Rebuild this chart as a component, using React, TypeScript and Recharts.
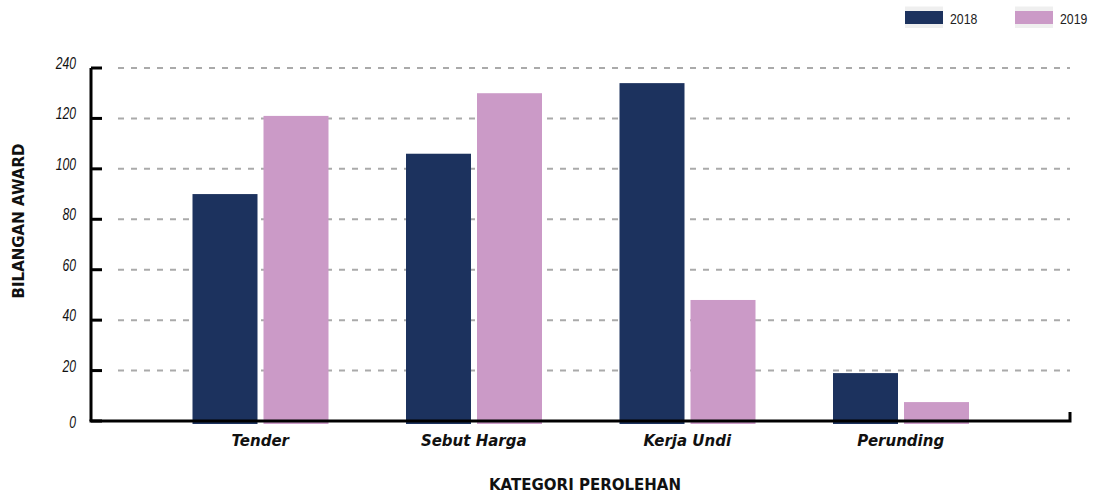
import { Bar, BarChart, CartesianGrid, Legend, ReferenceLine, XAxis, YAxis } from 'recharts';

const categories = ['Tender', 'Sebut Harga', 'Kerja Undi', 'Perunding'];
const awards2018 = [90, 106, 134, 19];
const awards2019 = [121, 130, 48, 7.5];
const yTicks = [0, 20, 40, 60, 80, 100, 120, 140];
const yTickLabels = ['0', '20', '40', '60', '80', '100', '120', '240'];

const NAVY = '#1c325e';
const PINK = '#cb9ac7';
const AXIS_X = 91;
const NARROW = "'Liberation Sans', Arial, sans-serif";

const data = categories.map((name, i) => ({
  name,
  y2018: awards2018[i],
  y2019: awards2019[i],
}));

// tick marks point inwards, labels sit a little above the line
function YTick(props: any) {
  const { y, payload, index } = props;
  const label = yTickLabels[index] ?? String(payload.value);
  const dy = payload.value === 0 ? 7 : 1;
  return (
    <g>
      <line x1={AXIS_X} x2={AXIS_X + 11} y1={y} y2={y} stroke="#000" strokeWidth={3} />
      <text
        transform={`translate(${AXIS_X - 15},${y + dy}) scale(0.76,1)`}
        textAnchor="end"
        fontFamily={NARROW}
        fontStyle="italic"
        fontSize={16}
        fill="#111"
      >
        {label}
      </text>
    </g>
  );
}

function GridLine(props: any) {
  const { x1, x2, y1, y2 } = props;
  if (y1 >= 419) return <g key={props.key} />;
  return (
    <line
      key={props.key}
      x1={x1 + 27}
      x2={x2}
      y1={y1}
      y2={y2}
      stroke="#aaa"
      strokeWidth={2}
      strokeDasharray="6 7"
    />
  );
}

function BarShape(props: any) {
  const { x, y, width, height, fill } = props;
  return <rect x={x} y={y} width={width} height={height + 3} fill={fill} />;
}

function BottomAxis(props: any) {
  const { x1, x2, y1 } = props;
  return (
    <path
      d={`M${x1 - 1.5},${y1}H${x2}V${y1 - 9}`}
      stroke="#000"
      strokeWidth={3}
      fill="none"
    />
  );
}

function LegendContent(props: any) {
  const items = props.payload ?? [];
  return (
    <svg width={190} height={32} style={{ display: 'block' }}>
      {items.map((entry: any, i: number) => (
        <g key={entry.value} transform={`translate(${i * 110},0)`}>
          <rect x={0} y={6.5} width={38} height={21.5} fill="#efefef" />
          <rect x={0} y={11} width={38} height={13} fill={entry.color} />
          <text
            transform="translate(45,24) scale(0.82,1)"
            fontFamily={NARROW}
            fontSize={15}
            fill="#222"
          >
            {entry.value}
          </text>
        </g>
      ))}
    </svg>
  );
}

export default function App() {
  return (
    <div style={{ position: 'absolute', left: 0, top: 0, width: 1095, height: 494, background: '#fff' }}>
      <BarChart
        width={1095}
        height={494}
        data={data}
        margin={{ top: 36, right: 25, bottom: 0, left: 0 }}
        barSize={65}
        barGap={6}
      >
        <CartesianGrid vertical={false} horizontal={GridLine} />
        <XAxis
          dataKey="name"
          height={73}
          padding={{ left: 62.5, right: 62.5 }}
          axisLine={false}
          tickLine={false}
          tickSize={6}
          tickMargin={8}
          tick={{
            fontFamily: "'DejaVu Sans', sans-serif",
            fontWeight: 'bold',
            fontStyle: 'italic',
            fontSize: 15,
            fill: '#111',
          }}
          label={{
            content: () => (
              <text
                x={585}
                y={490}
                textAnchor="middle"
                fontFamily="'DejaVu Sans', sans-serif"
                fontWeight="bold"
                fontSize={15}
                fill="#111"
              >
                KATEGORI PEROLEHAN
              </text>
            ),
          }}
        />
        <YAxis
          width={AXIS_X}
          domain={[0, 140]}
          ticks={yTicks}
          interval={0}
          tickLine={false}
          axisLine={{ stroke: '#000', strokeWidth: 3 }}
          tick={YTick}
          label={{
            content: () => (
              <text
                transform="translate(24,221) rotate(-90)"
                textAnchor="middle"
                fontFamily="'DejaVu Sans', sans-serif"
                fontWeight="bold"
                fontSize={15}
                fill="#111"
              >
                BILANGAN AWARD
              </text>
            ),
          }}
        />
        <Legend
          verticalAlign="top"
          height={32}
          content={LegendContent}
          wrapperStyle={{ position: 'absolute', top: 0, left: 905, width: 190, height: 32 }}
        />
        <ReferenceLine y={0} shape={BottomAxis} ifOverflow="visible" />
        <Bar dataKey="y2018" name="2018" fill={NAVY} shape={BarShape} isAnimationActive={false} />
        <Bar dataKey="y2019" name="2019" fill={PINK} shape={BarShape} isAnimationActive={false} />
      </BarChart>
    </div>
  );
}
